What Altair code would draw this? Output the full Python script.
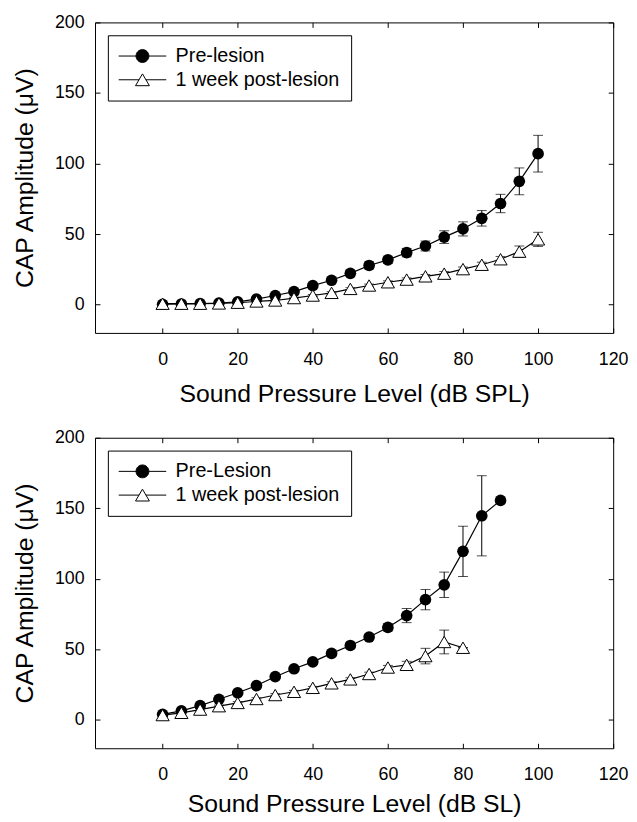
import altair as alt
import pandas as pd

# ---------------- data ----------------
top_levels = [0, 5, 10, 15, 20, 25, 30, 35, 40, 45, 50, 55, 60, 65, 70, 75, 80, 85, 90, 95, 100]
top_pre = [0.3, 0.5, 0.8, 1.2, 2.0, 4.0, 6.5, 9.3, 13.5, 17.3, 22.2, 27.8, 31.8, 36.9, 41.6, 47.9, 53.7, 61.2, 71.7, 87.4, 107.0]
top_pre_err = [0.5, 0.5, 0.5, 0.5, 0.8, 1.0, 1.2, 1.5, 1.5, 1.8, 2.0, 2.5, 2.5, 3.0, 3.5, 4.5, 5.0, 5.5, 6.5, 9.5, 13.0]
top_post = [0.7, 0.7, 0.7, 0.9, 1.4, 2.3, 3.0, 4.7, 6.5, 8.4, 11.2, 13.6, 15.9, 17.8, 20.1, 22.0, 25.2, 28.3, 32.2, 37.6, 46.3]
top_post_err = [0.3, 0.3, 0.3, 0.3, 0.4, 0.5, 0.5, 0.6, 0.7, 0.8, 0.9, 1.0, 1.0, 1.2, 1.3, 1.5, 1.5, 1.8, 2.0, 4.0, 5.0]

bot_pre_levels = [0, 5, 10, 15, 20, 25, 30, 35, 40, 45, 50, 55, 60, 65, 70, 75, 80, 85, 90]
bot_pre = [4.0, 6.5, 10.2, 14.7, 19.3, 24.4, 30.7, 36.3, 41.2, 47.2, 52.8, 58.8, 65.6, 74.0, 85.3, 95.8, 119.5, 144.7, 155.6]
bot_pre_err = [1.0, 1.0, 1.0, 1.0, 1.2, 1.2, 1.3, 1.4, 1.5, 1.5, 1.8, 2.0, 2.5, 5.0, 7.2, 9.0, 17.8, 28.4, 0.0]
bot_post_levels = [0, 5, 10, 15, 20, 25, 30, 35, 40, 45, 50, 55, 60, 65, 70, 75, 80]
bot_post = [3.5, 5.1, 7.4, 9.8, 12.1, 14.9, 17.7, 20.0, 22.8, 26.0, 28.8, 32.6, 37.2, 39.1, 45.3, 55.3, 51.2]
bot_post_err = [0.8, 0.8, 0.8, 0.8, 0.9, 0.9, 1.0, 1.0, 1.0, 1.1, 1.2, 1.3, 1.5, 2.5, 5.5, 8.4, 0.0]

top_names = ["Pre-lesion", "1 week post-lesion"]
bot_names = ["Pre-Lesion", "1 week post-lesion"]
top_xtitle = "Sound Pressure Level (dB SPL)"
bot_xtitle = "Sound Pressure Level (dB SL)"
y_title = "CAP Amplitude (\u03bcV)"

x_ticks = [0, 20, 40, 60, 80, 100, 120]
y_ticks = [0, 50, 100, 150, 200]

FONT = "Liberation Sans"
W, H = 524, 314

# legend symbols: line with marker (1 unit = 6.5 px), marker shifted right of the nominal slot
PATH_CIRCLE = "M-1.55,0H1.15M3.15,0H5.85M3.15,0A1,1,0,1,1,1.15,0A1,1,0,1,1,3.15,0Z"
PATH_TRI = "M-1.55,0H1.61M2.69,0H5.85M2.15,-0.92L1.07,0.92L3.23,0.92Z"


def make_df(lv_pre, pre, pre_err, lv_post, post, post_err, names):
    rows = []
    for l, v, e in zip(lv_pre, pre, pre_err):
        rows.append({"level": l, "amp": v, "err": e, "series": names[0]})
    for l, v, e in zip(lv_post, post, post_err):
        rows.append({"level": l, "amp": v, "err": e, "series": names[1]})
    return pd.DataFrame(rows)


def axis_common(**kw):
    base = dict(
        tickSize=5, offset=-5, domain=False, grid=False,
        tickColor="black", tickWidth=1,
        labelFont=FONT, labelFontSize=18, labelColor="black", labelFlush=False,
        titleFont=FONT, titleFontSize=25, titleColor="black", titleFontWeight="normal",
    )
    base.update(kw)
    return alt.Axis(**base)


def panel(df, names, xtitle, xtitle_pad):
    xs = alt.Scale(domain=[-18, 120], nice=False, zero=False)
    ys = alt.Scale(domain=[-20, 200], nice=False, zero=False)
    ax_bottom = axis_common(orient="bottom", values=x_ticks, labelPadding=18, titlePadding=xtitle_pad)
    ax_left = axis_common(orient="left", values=y_ticks, labelPadding=11, titlePadding=17)
    ax_top = axis_common(orient="top", values=x_ticks, labels=False, title=None)
    ax_right = axis_common(orient="right", values=y_ticks, labels=False, title=None)

    base = alt.Chart(df)
    err_base = base.transform_calculate(lo="datum.amp - datum.err", hi="datum.amp + datum.err")

    lines = base.mark_line(color="black", strokeWidth=1.2).encode(
        x=alt.X("level:Q", scale=xs, axis=ax_bottom, title=xtitle),
        y=alt.Y("amp:Q", scale=ys, axis=ax_left, title=y_title),
        detail="series:N",
    )
    rules = err_base.mark_rule(color="black", strokeWidth=1).encode(
        x=alt.X("level:Q", scale=xs, axis=ax_top),
        y=alt.Y("lo:Q", scale=ys, axis=ax_right),
        y2="hi:Q",
    )
    cap_lo = err_base.mark_tick(color="black", orient="horizontal", size=10, thickness=1).encode(
        x=alt.X("level:Q", scale=xs, axis=None),
        y=alt.Y("lo:Q", scale=ys, axis=None),
    )
    cap_hi = err_base.mark_tick(color="black", orient="horizontal", size=10, thickness=1).encode(
        x=alt.X("level:Q", scale=xs, axis=None),
        y=alt.Y("hi:Q", scale=ys, axis=None),
    )
    circles = base.transform_filter(alt.datum.series == names[0]).mark_point(
        shape="circle", filled=True, size=139, color="black", opacity=1
    ).encode(
        x=alt.X("level:Q", scale=xs, axis=None),
        y=alt.Y("amp:Q", scale=ys, axis=None),
    )
    tris = base.transform_filter(alt.datum.series == names[1]).mark_point(
        shape="triangle-up", filled=True, size=177, fill="white", stroke="black",
        strokeWidth=1, opacity=1
    ).encode(
        x=alt.X("level:Q", scale=xs, axis=None),
        y=alt.Y("amp:Q", scale=ys, axis=None),
    )
    shape_expr = f"datum.value === '{names[1]}' ? '{PATH_TRI}' : '{PATH_CIRCLE}'"
    leg = alt.Legend(
        title=None, orient="top-left", offset=13, padding=11,
        strokeColor="black", fillColor="white",
        labelFont=FONT, labelFontSize=20, labelColor="black", labelLimit=400,
        labelOffset=37.5, rowPadding=4,
        symbolType=alt.ExprRef(expr=shape_expr),
        symbolSize=169, symbolOpacity=1, symbolStrokeColor="black", symbolStrokeWidth=1,
    )
    legend_layer = base.mark_point(
        filled=True, stroke="black", strokeWidth=1, size=169, opacity=0
    ).encode(
        x=alt.X("level:Q", scale=xs, axis=None),
        y=alt.Y("amp:Q", scale=ys, axis=None),
        fill=alt.Fill("series:N", scale=alt.Scale(domain=names, range=["black", "white"]), legend=leg),
    )
    return alt.layer(lines, rules, cap_lo, cap_hi, circles, tris, legend_layer).resolve_axis(
        x="independent", y="independent"
    ).properties(width=W, height=H)


top_df = make_df(top_levels, top_pre, top_pre_err, top_levels, top_post, top_post_err, top_names)
bot_df = make_df(bot_pre_levels, bot_pre, bot_pre_err, bot_post_levels, bot_post, bot_post_err, bot_names)

chart = alt.vconcat(
    panel(top_df, top_names, top_xtitle, 13),
    panel(bot_df, bot_names, bot_xtitle, 8),
    spacing=21,
).resolve_scale(fill="independent").resolve_legend(fill="independent").properties(
    padding={"left": 4, "top": 0, "right": 0, "bottom": 0}
).configure_view(stroke="black", strokeWidth=1)

chart.save("out.html", embed_options={"renderer": "svg", "actions": False})
